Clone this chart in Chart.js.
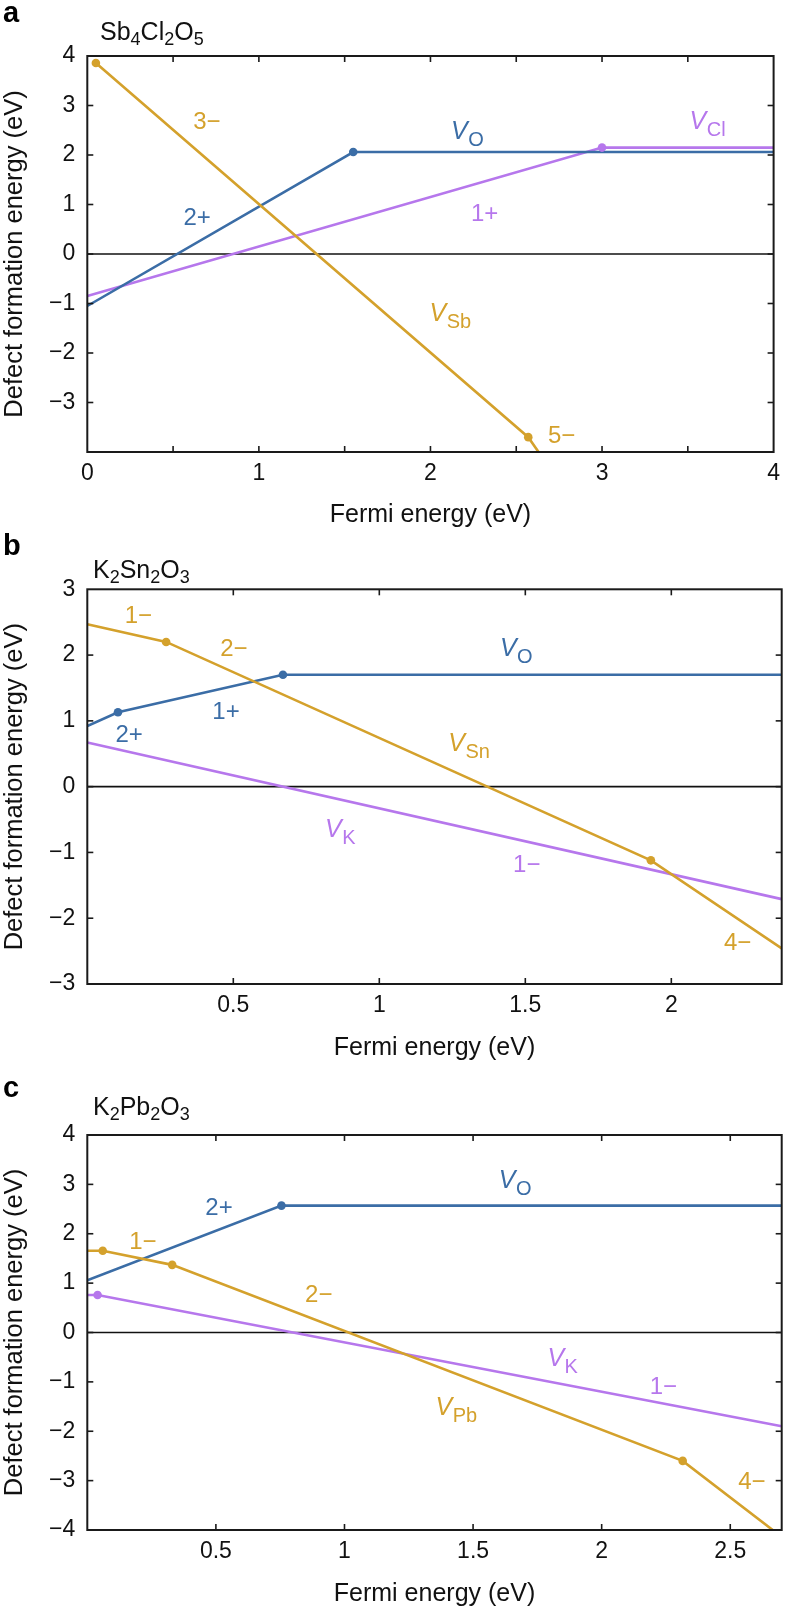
<!DOCTYPE html>
<html><head><meta charset="utf-8">
<script src="https://cdn.jsdelivr.net/npm/chart.js@4.4.0/dist/chart.umd.min.js"></script>
<style>
html,body{margin:0;padding:0;background:#fff;}
body{width:788px;height:1609px;position:relative;overflow:hidden;}
canvas{position:absolute;left:0;}
</style></head><body>
<canvas id="ca"></canvas><canvas id="cb"></canvas><canvas id="cc"></canvas>
<script>
// ================= DATA =================
// Panel a : Sb4Cl2O5
const a_xRange = [0, 4];
const a_yRange = [-4, 4];
const a_VO_x  = [0, 1.55, 4];
const a_VO_y  = [-1.05, 2.06, 2.06];
const a_VO_tx = [1.55];
const a_VO_ty = [2.06];
const a_VCl_x  = [0, 3.0, 4];
const a_VCl_y  = [-0.85, 2.15, 2.15];
const a_VCl_tx = [3.0];
const a_VCl_ty = [2.15];
const a_VSb_x  = [0.05, 2.57, 2.64];
const a_VSb_y  = [3.86, -3.70, -4.05];
const a_VSb_tx = [0.05, 2.57];
const a_VSb_ty = [3.86, -3.70];

// Panel b : K2Sn2O3
const b_xRange = [0, 2.378];
const b_yRange = [-3, 3];
const b_VSn_x  = [0, 0.27, 1.93, 2.378];
const b_VSn_y  = [2.47, 2.20, -1.12, -2.46];
const b_VSn_tx = [0.27, 1.93];
const b_VSn_ty = [2.20, -1.12];
const b_VO_x  = [0, 0.105, 0.67, 2.378];
const b_VO_y  = [0.92, 1.13, 1.70, 1.70];
const b_VO_tx = [0.105, 0.67];
const b_VO_ty = [1.13, 1.70];
const b_VK_x  = [0, 2.378];
const b_VK_y  = [0.67, -1.71];

// Panel c : K2Pb2O3
const c_xRange = [0, 2.70];
const c_yRange = [-4, 4];
const c_VO_x  = [0, 0.755, 2.70];
const c_VO_y  = [1.06, 2.57, 2.57];
const c_VO_tx = [0.755];
const c_VO_ty = [2.57];
const c_VPb_x  = [0, 0.06, 0.33, 2.315, 2.68];
const c_VPb_y  = [1.655, 1.655, 1.37, -2.60, -4.06];
const c_VPb_tx = [0.06, 0.33, 2.315];
const c_VPb_ty = [1.655, 1.37, -2.60];
const c_VK_x  = [0, 0.04, 2.70];
const c_VK_y  = [0.76, 0.76, -1.90];
const c_VK_tx = [0.04];
const c_VK_ty = [0.76];

const zeroLevel = 0;

// ================= STYLE =================
const GOLD = '#D4A12C', BLUE = '#3B6DA6', PURPLE = '#B677EC';
const FONT = '"Liberation Sans", Arial, Helvetica, sans-serif';
const MINUS = '\u2212';

function pts(xs, ys){ return xs.map((x,i)=>({x:x, y:ys[i]})); }
function lineDS(xs, ys, color){
  return {data: pts(xs,ys), showLine:true, borderColor:color, backgroundColor:color,
          borderWidth:2.6, pointRadius:0, tension:0, order:1};
}
function dotDS(xs, ys, color){
  return {data: pts(xs,ys), showLine:false, pointRadius:4.3, pointBackgroundColor:color,
          pointBorderWidth:0, backgroundColor:color, order:0};
}
function zeroDS(range){
  return {data: pts(range, range.map(()=>zeroLevel)), showLine:true, borderColor:'#111',
          borderWidth:1.6, pointRadius:0, order:5};
}
function fmt(v){ const s = String(+v.toFixed(2)); return v < 0 ? MINUS + s.slice(1) : s; }

function drawRich(ctx, x, y, parts, color, align){
  let w = 0;
  parts.forEach(p => {
    ctx.font = (p.b?'bold ':'') + (p.i?'italic ':'') + p.s + 'px ' + FONT;
    p.w = ctx.measureText(p.t).width; w += p.w + (p.k||0);
  });
  let cx = align === 'center' ? x - w/2 : x;
  ctx.fillStyle = color; ctx.textAlign = 'left'; ctx.textBaseline = 'alphabetic';
  parts.forEach(p => {
    ctx.font = (p.b?'bold ':'') + (p.i?'italic ':'') + p.s + 'px ' + FONT;
    ctx.fillText(p.t, cx, y + (p.dy||0)); cx += p.w + (p.k||0);
  });
}
function charge(x, y, t, color){ return {x, y, color, align:'center', parts:[{t:t, s:24}]}; }
function vlab(x, y, sub, color){ return {x, y, color, align:'left', parts:[{t:'V', s:25, i:true, k:0.5},{t:sub, s:20, dy:7}]}; }
function formula(items){ return items.map(([t,isSub]) => isSub ? {t, s:18, dy:5} : {t, s:25}); }

const decor = {
  id:'decor',
  afterDatasetsDraw(chart, args, o){
    const {ctx, chartArea:{left,right,top,bottom}, scales:{x,y}} = chart;
    ctx.save();
    ctx.strokeStyle = '#1a1a1a'; ctx.lineWidth = 1.6;
    const TL = 6;
    const ln = (x1,y1,x2,y2)=>{ctx.beginPath();ctx.moveTo(x1,y1);ctx.lineTo(x2,y2);ctx.stroke();};
    x.ticks.forEach(t=>{
      if (t.value <= x.min + 1e-6 || t.value >= x.max - 1e-6) return;
      const p = x.getPixelForValue(t.value);
      ln(p, bottom, p, bottom-TL); ln(p, top, p, top+TL);
    });
    y.ticks.forEach(t=>{
      if (t.value <= y.min + 1e-6 || t.value >= y.max - 1e-6) return;
      const p = y.getPixelForValue(t.value);
      ln(left, p, left+TL, p); ln(right, p, right-TL, p);
    });
    ctx.lineWidth = 2;
    ctx.strokeRect(left, top, right-left, bottom-top);
    (o.labels||[]).forEach(L => {
      drawRich(ctx, x.getPixelForValue(L.x), y.getPixelForValue(L.y), L.parts, L.color, L.align);
    });
    drawRich(ctx, o.titleX, o.titleBase, o.title, '#111', 'left');
    drawRich(ctx, 3, o.letterBase, [{t:o.letter, s:29, b:true}], '#000', 'left');
    ctx.restore();
  }
};

const panels = [
  { id:'ca', top:0, H:530, plotTop:56, plotBottom:452, titlePad:0,
    xr:a_xRange, yr:a_yRange,
    xLab: v => Number.isInteger(v) ? fmt(v) : '',
    yLab: v => v === -4 ? '' : fmt(v),
    datasets:[
      lineDS(a_VSb_x, a_VSb_y, GOLD), lineDS(a_VO_x, a_VO_y, BLUE), lineDS(a_VCl_x, a_VCl_y, PURPLE),
      dotDS(a_VSb_tx, a_VSb_ty, GOLD), dotDS(a_VO_tx, a_VO_ty, BLUE), dotDS(a_VCl_tx, a_VCl_ty, PURPLE),
      zeroDS(a_xRange)],
    decor:{ letter:'a', letterBase:22, titleX:100, titleBase:40,
      title: formula([['Sb',0],['4',1],['Cl',0],['2',1],['O',0],['5',1]]),
      labels:[
        charge(0.697, 2.52, '3'+MINUS, GOLD),
        charge(0.64, 0.59, '2+', BLUE),
        charge(2.316, 0.66, '1+', PURPLE),
        charge(2.765, -3.81, '5'+MINUS, GOLD),
        vlab(2.12, 2.32, 'O', BLUE),
        vlab(3.51, 2.53, 'Cl', PURPLE),
        vlab(1.995, -1.344, 'Sb', GOLD)
      ]}
  },
  { id:'cb', top:530, H:545, plotTop:59.3, plotBottom:454, titlePad:12,
    xr:b_xRange, yr:b_yRange,
    xLab: v => v === 0 ? '' : fmt(v),
    yLab: v => fmt(v),
    datasets:[
      lineDS(b_VSn_x, b_VSn_y, GOLD), lineDS(b_VO_x, b_VO_y, BLUE), lineDS(b_VK_x, b_VK_y, PURPLE),
      dotDS(b_VSn_tx, b_VSn_ty, GOLD), dotDS(b_VO_tx, b_VO_ty, BLUE),
      zeroDS(b_xRange)],
    decor:{ letter:'b', letterBase:25, titleX:93, titleBase:48.3,
      title: formula([['K',0],['2',1],['Sn',0],['2',1],['O',0],['3',1]]),
      labels:[
        charge(0.175, 2.49, '1'+MINUS, GOLD),
        charge(0.502, 1.985, '2'+MINUS, GOLD),
        charge(0.475, 1.026, '1+', BLUE),
        charge(0.143, 0.686, '2+', BLUE),
        charge(1.505, -1.30, '1'+MINUS, PURPLE),
        charge(2.227, -2.485, '4'+MINUS, GOLD),
        vlab(1.413, 1.985, 'O', BLUE),
        vlab(1.236, 0.545, 'Sn', GOLD),
        vlab(0.814, -0.768, 'K', PURPLE)
      ]}
  },
  { id:'cc', top:1075, H:534, plotTop:60, plotBottom:455, titlePad:0,
    xr:c_xRange, yr:c_yRange,
    xLab: v => v === 0 ? '' : fmt(v),
    yLab: v => fmt(v),
    datasets:[
      lineDS(c_VPb_x, c_VPb_y, GOLD), lineDS(c_VO_x, c_VO_y, BLUE), lineDS(c_VK_x, c_VK_y, PURPLE),
      dotDS(c_VPb_tx, c_VPb_ty, GOLD), dotDS(c_VO_tx, c_VO_ty, BLUE), dotDS(c_VK_tx, c_VK_ty, PURPLE),
      zeroDS(c_xRange)],
    decor:{ letter:'c', letterBase:21.7, titleX:93, titleBase:40,
      title: formula([['K',0],['2',1],['Pb',0],['2',1],['O',0],['3',1]]),
      labels:[
        charge(0.512, 2.38, '2+', BLUE),
        charge(0.216, 1.70, '1'+MINUS, GOLD),
        charge(0.90, 0.62, '2'+MINUS, GOLD),
        charge(2.24, -1.237, '1'+MINUS, PURPLE),
        charge(2.584, -3.164, '4'+MINUS, GOLD),
        vlab(1.60, 2.92, 'O', BLUE),
        vlab(1.789, -0.684, 'K', PURPLE),
        vlab(1.354, -1.677, 'Pb', GOLD)
      ]}
  }
];

const LEFT = 87.3, RIGHT = 781.7, W = 788;
panels.forEach(P => {
  const cv = document.getElementById(P.id);
  cv.width = W; cv.height = P.H;
  cv.style.width = W + 'px'; cv.style.height = P.H + 'px'; cv.style.top = P.top + 'px';
  new Chart(cv.getContext('2d'), {
    type:'scatter',
    data:{ datasets: P.datasets },
    plugins:[decor],
    options:{
      responsive:false, animation:false, devicePixelRatio:1, events:[],
      layout:{ padding:{ top:P.plotTop, right:W-RIGHT, left:0, bottom:0 } },
      plugins:{ legend:{display:false}, tooltip:{enabled:false}, decor:P.decor },
      scales:{
        x:{ type:'linear', position:'bottom', min:P.xr[0], max:P.xr[1],
            afterFit: s => { s.height = P.H - P.plotBottom; },
            grid:{display:false, drawTicks:false}, border:{display:false},
            ticks:{ stepSize:0.5, includeBounds:false, autoSkip:false, maxRotation:0, padding:8,
                    color:'#111', font:{family:FONT, size:23}, callback: v => P.xLab(v) },
            title:{ display:true, text:'Fermi energy (eV)', color:'#111',
                    font:{family:FONT, size:25}, padding:{top:0, bottom:P.titlePad} } },
        y:{ type:'linear', position:'left', min:P.yr[0], max:P.yr[1],
            afterFit: s => { s.width = LEFT; },
            grid:{display:false, drawTicks:false}, border:{display:false},
            ticks:{ stepSize:1, autoSkip:false, padding:12,
                    color:'#111', font:{family:FONT, size:23}, callback: v => P.yLab(v) },
            title:{ display:true, text:'Defect formation energy (eV)', color:'#111',
                    font:{family:FONT, size:25.5}, padding:{top:0, bottom:0} } }
      }
    }
  });
});
</script>
</body></html>
